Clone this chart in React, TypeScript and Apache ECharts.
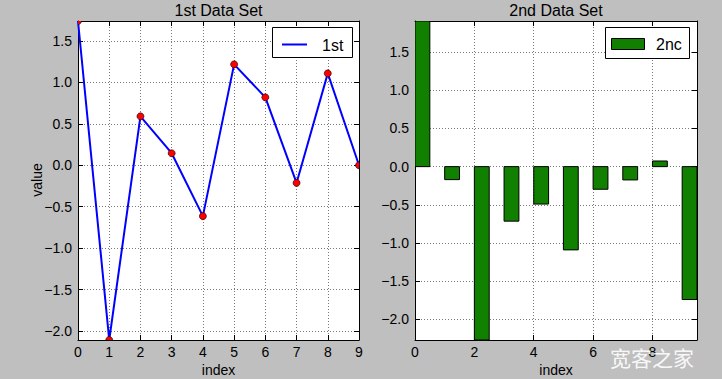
import React, { useEffect, useRef } from "react";
import * as echarts from "echarts";

// ---- data ----
const indexValues = [0, 1, 2, 3, 4, 5, 6, 7, 8, 9];
const firstValues = [1.74, -2.108, 0.59, 0.145, -0.614, 1.217, 0.819, -0.213, 1.108, 0.0];
const secondValues = [1.907, -0.17, -2.27, -0.714, -0.49, -1.09, -0.296, -0.174, 0.074, -1.74];
const BAR_WIDTH = 0.5;
const titles = ["1st Data Set", "2nd Data Set"];
const seriesNames = ["1st", "2nc"];
const xAxisNames = ["index", "index"];
const yAxisName = "value";
const watermark = "宽客之家";

const FONT = "Liberation Sans, Arial, Helvetica, sans-serif";
const BLUE = "#0000ff";
const RED = "#ff0000";
const GREEN = "#118000";
const BG = "#bfbfbf";

const fmt = (v: number) => v.toFixed(1).replace("-", "\u2212");

export default function App() {
  const ref = useRef<HTMLDivElement>(null);
  useEffect(() => {
    if (!ref.current) return;
    const chart = echarts.init(ref.current, undefined, { renderer: "svg" });

    const y1Min = Math.min(...firstValues);
    const y1Max = Math.max(...firstValues);
    const y2Min = Math.min(0, ...secondValues);
    const y2Max = Math.max(0, ...secondValues);
    const x1Max = Math.max(...indexValues);
    const x2Max = Math.max(...indexValues) + BAR_WIDTH;

    const tickStyle = { show: true, inside: true, length: 5, lineStyle: { color: "#000", width: 1 } };
    const lineStyle = { show: true, onZero: false, lineStyle: { color: "#000", width: 1 } };
    const split = { show: true, lineStyle: { color: "#7a7a7a", width: 1, type: [1, 2] as any } };
    const label = (extra: any = {}) => ({
      show: true,
      color: "#000",
      fontSize: 14,
      fontFamily: FONT,
      margin: 5,
      formatter: (v: number) => fmt(v),
      ...extra,
    });

    const firstData = indexValues.map((x, i) => [x, firstValues[i]]);

    const option: any = {
      animation: false,
      backgroundColor: BG,
      textStyle: { fontFamily: FONT },
      grid: [
        { left: 78, top: 21, width: 281, height: 319, show: true, backgroundColor: "#fff", borderWidth: 0 },
        { left: 415, top: 21, width: 282, height: 319, show: true, backgroundColor: "#fff", borderWidth: 0 },
      ],
      xAxis: [
        {
          type: "value", gridIndex: 0, position: "bottom", min: 0, max: x1Max, interval: 1,
          axisLine: lineStyle, axisTick: tickStyle, splitLine: split,
          axisLabel: label({ formatter: (v: number) => String(Math.round(v)) }),
        },
        {
          type: "value", gridIndex: 0, position: "top", min: 0, max: x1Max, interval: 1,
          axisLine: lineStyle, axisTick: tickStyle, splitLine: { show: false }, axisLabel: { show: false },
        },
        {
          type: "value", gridIndex: 1, position: "bottom", min: 0, max: x2Max, interval: 2,
          axisLine: lineStyle, axisTick: tickStyle, splitLine: split,
          axisLabel: label({ showMaxLabel: false, formatter: (v: number) => String(Math.round(v)) }),
        },
        {
          type: "value", gridIndex: 1, position: "top", min: 0, max: x2Max, interval: 2,
          axisLine: lineStyle, axisTick: tickStyle, splitLine: { show: false }, axisLabel: { show: false },
        },
      ],
      yAxis: [
        {
          type: "value", gridIndex: 0, position: "left", min: y1Min, max: y1Max, splitNumber: 8,
          axisLine: lineStyle, axisTick: tickStyle, splitLine: split,
          axisLabel: label({ margin: 6, showMinLabel: false, showMaxLabel: false }),
        },
        {
          type: "value", gridIndex: 0, position: "right", min: y1Min, max: y1Max, splitNumber: 8,
          axisLine: lineStyle, axisTick: tickStyle, splitLine: { show: false }, axisLabel: { show: false },
        },
        {
          type: "value", gridIndex: 1, position: "left", min: y2Min, max: y2Max, splitNumber: 8,
          axisLine: lineStyle, axisTick: tickStyle, splitLine: split,
          axisLabel: label({ margin: 6, showMinLabel: false, showMaxLabel: false }),
        },
        {
          type: "value", gridIndex: 1, position: "right", min: y2Min, max: y2Max, splitNumber: 8,
          axisLine: lineStyle, axisTick: tickStyle, splitLine: { show: false }, axisLabel: { show: false },
        },
      ],
      series: [
        {
          name: seriesNames[0],
          type: "line",
          xAxisIndex: 0,
          yAxisIndex: 0,
          data: firstData,
          lineStyle: { color: BLUE, width: 2 },
          itemStyle: { color: BLUE },
          symbol: "none",
          clip: true,
          z: 3,
        },
        {
          name: seriesNames[0] + " markers",
          type: "custom",
          xAxisIndex: 0,
          yAxisIndex: 0,
          clip: true,
          encode: { x: 0, y: 1 },
          data: firstData,
          renderItem: (_params: any, api: any) => {
            const p = api.coord([api.value(0), api.value(1)]);
            return {
              type: "circle",
              shape: { cx: p[0], cy: p[1], r: 3.5 },
              style: { fill: RED, stroke: "#000", lineWidth: 0.6 },
            };
          },
          z: 4,
        },
        {
          name: seriesNames[1],
          type: "custom",
          xAxisIndex: 2,
          yAxisIndex: 2,
          clip: true,
          encode: { x: 0, y: 1 },
          data: indexValues.map((x, i) => [x, secondValues[i]]),
          renderItem: (_params: any, api: any) => {
            const x = api.value(0);
            const v = api.value(1);
            const p0 = api.coord([x, 0]);
            const p1 = api.coord([x + BAR_WIDTH, v]);
            return {
              type: "rect",
              shape: {
                x: p0[0],
                y: Math.min(p0[1], p1[1]),
                width: p1[0] - p0[0],
                height: Math.abs(p1[1] - p0[1]),
              },
              style: { fill: GREEN, stroke: "#000", lineWidth: 1 },
            };
          },
          z: 3,
        },
      ],
      graphic: [
        // titles
        { type: "text", x: 218.5, y: 10, style: { text: titles[0], fontSize: 16, fontFamily: FONT, fill: "#000", align: "center", verticalAlign: "middle" } },
        { type: "text", x: 556, y: 10, style: { text: titles[1], fontSize: 16, fontFamily: FONT, fill: "#000", align: "center", verticalAlign: "middle" } },
        // axis names
        { type: "text", x: 218.5, y: 370, style: { text: xAxisNames[0], fontSize: 14, fontFamily: FONT, fill: "#000", align: "center", verticalAlign: "middle" } },
        { type: "text", x: 556, y: 370, style: { text: xAxisNames[1], fontSize: 14, fontFamily: FONT, fill: "#000", align: "center", verticalAlign: "middle" } },
        { type: "text", x: 37, y: 180, rotation: Math.PI / 2, style: { text: yAxisName, fontSize: 14, fontFamily: FONT, fill: "#000", align: "center", verticalAlign: "middle" } },
        // legend 1
        { type: "rect", shape: { x: 272.5, y: 27.5, width: 80, height: 30 }, style: { fill: "#fff", stroke: "#000", lineWidth: 1 }, z: 10 },
        { type: "line", shape: { x1: 282, y1: 44.5, x2: 307, y2: 44.5 }, style: { stroke: BLUE, lineWidth: 2 }, z: 11 },
        { type: "text", x: 322, y: 45, style: { text: seriesNames[0], fontSize: 16, fontFamily: FONT, fill: "#000", align: "left", verticalAlign: "middle" }, z: 11 },
        // legend 2
        { type: "rect", shape: { x: 605.5, y: 27.5, width: 84, height: 31 }, style: { fill: "#fff", stroke: "#000", lineWidth: 1 }, z: 10 },
        { type: "rect", shape: { x: 611.5, y: 38.5, width: 33, height: 11 }, style: { fill: GREEN, stroke: "#000", lineWidth: 1 }, z: 11 },
        { type: "text", x: 656, y: 44.5, style: { text: seriesNames[1], fontSize: 16, fontFamily: FONT, fill: "#000", align: "left", verticalAlign: "middle" }, z: 11 },
        // watermark
        { type: "text", x: 652, y: 357, style: { text: watermark, fontSize: 21, fontFamily: "Noto Sans CJK SC", fill: "rgba(255,255,255,0.9)", align: "center", verticalAlign: "middle" }, z: 20 },
      ],
    };
    chart.setOption(option);
    return () => chart.dispose();
  }, []);
  return (
    <div
      ref={ref}
      style={{ position: "fixed", left: 0, top: 0, width: 722, height: 379, background: BG }}
    />
  );
}
